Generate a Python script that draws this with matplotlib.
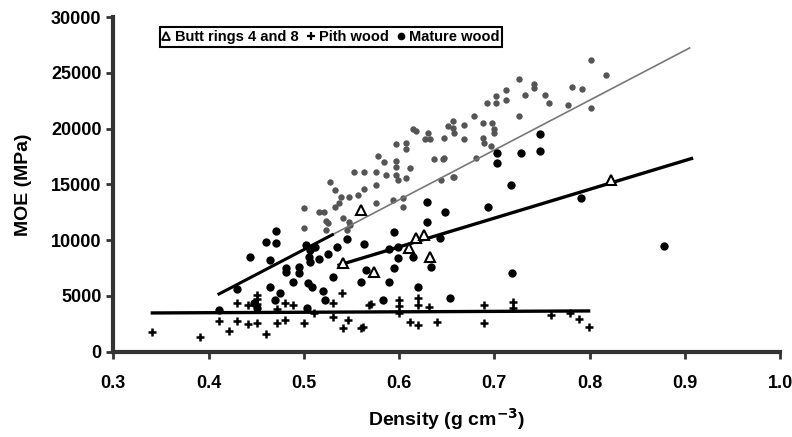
import matplotlib
matplotlib.use("Agg")
import matplotlib.pyplot as plt
from matplotlib.lines import Line2D

plt.rcParams["font.family"] = ["Liberation Sans", "DejaVu Sans"]
plt.rcParams["font.weight"] = "bold"

# gray cluster (upper group)
gray_x = [0.528, 0.533, 0.539, 0.537, 0.533, 0.547, 0.557, 0.563, 0.553, 0.563,
          0.576, 0.576, 0.578, 0.584, 0.586, 0.597, 0.597, 0.597, 0.597, 0.599,
          0.607, 0.607, 0.612, 0.607, 0.618, 0.630, 0.633, 0.637, 0.646, 0.657,
          0.658, 0.644, 0.658, 0.516, 0.525, 0.523, 0.500, 0.541, 0.547, 0.549,
          0.576, 0.594, 0.604, 0.604, 0.545, 0.802, 0.817, 0.726, 0.742, 0.742,
          0.712, 0.702, 0.702, 0.692, 0.712, 0.732, 0.753, 0.757, 0.782, 0.792,
          0.777, 0.802, 0.726, 0.679, 0.688, 0.657, 0.651, 0.668, 0.698, 0.700,
          0.700, 0.647, 0.668, 0.688, 0.689, 0.696, 0.647, 0.681, 0.657, 0.500,
          0.521, 0.523, 0.615, 0.627]
gray_y = [15180, 14470, 13840, 13300, 12950, 13840, 14020, 14560, 16070, 16070,
          14910, 16070, 17590, 16970, 15800, 18660, 17140, 16520, 15800, 15360,
          18750, 18210, 16430, 15540, 19820, 19640, 19110, 17320, 17320, 20090,
          19640, 15360, 15630, 12500, 11520, 10900, 11070, 11970, 11610, 11340,
          13300, 13570, 13750, 12950, 10900, 26160, 24820, 24460, 24020, 23660,
          23480, 22950, 22320, 22320, 22590, 23040, 23040, 22320, 23750, 23570,
          22140, 21880, 21160, 21160, 20540, 20720, 20270, 20300, 20540, 20000,
          19640, 19200, 19110, 19200, 18750, 18480, 17410, 17410, 15630, 12900,
          12500, 11700, 20000, 19100]

# mature wood (black dots)
mat_x = [0.471, 0.460, 0.471, 0.444, 0.465, 0.481, 0.481, 0.495, 0.495, 0.489,
         0.465, 0.430, 0.502, 0.507, 0.505, 0.506, 0.512, 0.516, 0.525, 0.535,
         0.545, 0.563, 0.504, 0.509, 0.520, 0.531, 0.560, 0.565, 0.522, 0.470,
         0.583, 0.703, 0.728, 0.748, 0.703, 0.718, 0.629, 0.648, 0.693, 0.629,
         0.595, 0.589, 0.599, 0.599, 0.615, 0.595, 0.643, 0.634, 0.589, 0.620,
         0.719, 0.791, 0.653, 0.878, 0.748, 0.411, 0.451, 0.503, 0.475, 0.448]
mat_y = [10800, 9820, 9730, 8480, 8210, 7500, 7140, 7590, 7050, 6250,
         5800, 5630, 9550, 9110, 8480, 8040, 9380, 8300, 8750, 9380,
         10090, 9640, 6160, 5800, 5450, 6700, 6250, 7320, 4640, 4640,
         4640, 17860, 17860, 17950, 16880, 14910, 13390, 12500, 12950, 11610,
         10720, 9200, 9380, 8390, 8480, 7500, 10180, 7590, 6250, 5800,
         7050, 13750, 4820, 9460, 19550, 3750, 3930, 3930, 5300, 4400]

# butt rings 4 and 8 (open triangles)
butt_x = [0.541, 0.574, 0.610, 0.618, 0.626, 0.633, 0.823, 0.560]
butt_y = [7950, 7140, 9300, 10200, 10500, 8500, 15400, 12700]

# pith wood (pluses)
pith_x = [0.341, 0.391, 0.411, 0.421, 0.430, 0.430, 0.441, 0.441, 0.451, 0.451,
          0.460, 0.472, 0.472, 0.480, 0.480, 0.489, 0.500, 0.511, 0.531, 0.531,
          0.540, 0.546, 0.541, 0.560, 0.568, 0.562, 0.571, 0.600, 0.600, 0.600,
          0.611, 0.620, 0.620, 0.620, 0.631, 0.640, 0.689, 0.689, 0.720, 0.720,
          0.760, 0.779, 0.789, 0.799, 0.451, 0.451]
pith_y = [1786, 1340, 2770, 1875, 4375, 2770, 4200, 2500, 5090, 2590,
          1610, 3840, 2590, 4375, 2860, 4200, 2590, 3480, 4375, 3125,
          5270, 2860, 2140, 2140, 4200, 2230, 4290, 4640, 4110, 3480,
          2680, 4820, 4200, 2410, 4020, 2680, 4200, 2590, 4460, 3930,
          3300, 3480, 2950, 2230, 4700, 4300]

# fitted lines (end points)
fit_gray_x = [0.411, 0.905]
fit_gray_y = [5180, 27230]
fit_butt_x = [0.537, 0.907]
fit_butt_y = [7770, 17320]
fit_pith_x = [0.341, 0.799]
fit_pith_y = [3480, 3660]

fig = plt.figure(figsize=(7.92, 4.37), dpi=100)
ax = fig.add_axes([0.143, 0.195, 0.842, 0.766])

ax.plot(gray_x, gray_y, "o", color="#555555", ms=4.6, mec="none")
ax.plot(fit_gray_x, fit_gray_y, color="#777777", lw=1.2)
# lower part of that line is printed dark in the figure
gx0, gx1 = fit_gray_x[0], 0.53
gslope = (fit_gray_y[1] - fit_gray_y[0]) / (fit_gray_x[1] - fit_gray_x[0])
ax.plot([gx0, gx1], [fit_gray_y[0], fit_gray_y[0] + gslope * (gx1 - gx0)],
        color="black", lw=2.2)
ax.plot(fit_butt_x, fit_butt_y, color="black", lw=2.4)
ax.plot(fit_pith_x, fit_pith_y, color="black", lw=2.4)

ax.plot(mat_x, mat_y, "o", color="black", ms=6, mec="none")
ax.plot(pith_x, pith_y, "+", color="black", ms=6, mew=1.8)
ax.plot(butt_x, butt_y, "^", mfc="white", mec="black", ms=6.5, mew=1.5)

ax.set_xlim(0.3, 1.0)
ax.set_ylim(0, 30000)
ax.set_xticks([0.3, 0.4, 0.5, 0.6, 0.7, 0.8, 0.9, 1.0])
ax.set_xticklabels(["0.3", "0.4", "0.5", "0.6", "0.7", "0.8", "0.9", "1.0"])
ax.set_yticks([0, 5000, 10000, 15000, 20000, 25000, 30000])
ax.tick_params(labelsize=13, width=2, length=5, color="#333333")
ax.tick_params(axis="x", pad=12)
for s in ["top", "right"]:
    ax.spines[s].set_visible(False)
for s in ["left", "bottom"]:
    ax.spines[s].set_linewidth(3)
    ax.spines[s].set_color("#333333")
for lab in ax.get_xticklabels() + ax.get_yticklabels():
    lab.set_fontweight("bold")

ax.set_xlabel("Density (g cm$^{\\mathbf{-3}}$)", fontsize=14, fontweight="bold", labelpad=10)
ax.set_ylabel("MOE (MPa)", fontsize=14, fontweight="bold", labelpad=14)

handles = [
    Line2D([], [], ls="none", marker="^", mfc="white", mec="black", ms=6, mew=1.3),
    Line2D([], [], ls="none", marker="+", color="black", ms=6, mew=1.6),
    Line2D([], [], ls="none", marker="o", color="black", ms=4.5),
]
leg = ax.legend(handles, ["Butt rings 4 and 8", "Pith wood", "Mature wood"],
                loc="upper left", bbox_to_anchor=(0.07, 0.97), ncol=3,
                fontsize=10.5, handlelength=0.5, handletextpad=0.3,
                columnspacing=0.6, borderpad=0.2, borderaxespad=0,
                fancybox=False, framealpha=1, edgecolor="black")
leg.get_frame().set_linewidth(1.5)
for t in leg.get_texts():
    t.set_fontweight("bold")

fig.savefig("out.png", dpi=100)
